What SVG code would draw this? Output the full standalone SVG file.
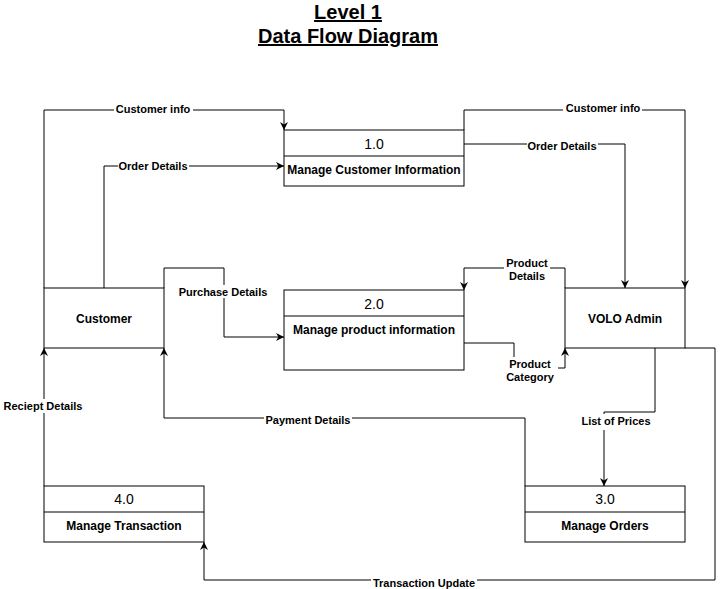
<svg xmlns="http://www.w3.org/2000/svg" width="723" height="589" viewBox="0 0 723 589">
<style>
.box{fill:#fff;stroke:#000;stroke-width:1}
.ln{fill:none;stroke:#000;stroke-width:1}
.num{font-family:"Liberation Sans",Arial,sans-serif;font-size:14px;text-anchor:middle}
.nm{font-family:"Liberation Sans",Arial,sans-serif;font-size:12px;font-weight:bold;text-anchor:middle}
.lbl{font-family:"Liberation Sans",Arial,sans-serif;font-size:11px;font-weight:bold;text-anchor:middle}
.lbg{fill:#fff}
.ttl{font-family:"Liberation Sans",Arial,sans-serif;font-size:20px;font-weight:bold;text-anchor:middle;text-decoration:underline}
</style>
<defs>
<marker id="arr" viewBox="0 0 10 10" refX="10" refY="5" markerWidth="8" markerHeight="8" markerUnits="userSpaceOnUse" orient="auto">
<path d="M0,0 L10,5 L0,10 L3,5 Z" fill="#000"/>
</marker>
</defs>
<rect width="723" height="589" fill="#fff"/>
<g id="title">
<text class="ttl" x="348" y="19">Level 1</text>
<text class="ttl" x="348" y="43">Data Flow Diagram</text>
</g>
<g id="connectors">
<path class="ln" d="M44,288 V110 H284 V130" marker-end="url(#arr)"/>
<path class="ln" d="M104,288 V166 H284" marker-end="url(#arr)"/>
<path class="ln" d="M464,130 V110 H685 V288" marker-end="url(#arr)"/>
<path class="ln" d="M464,144 H625 V288" marker-end="url(#arr)"/>
<path class="ln" d="M565,288 V268 H464 V290" marker-end="url(#arr)"/>
<path class="ln" d="M464,343 H514 V368 H565 V348" marker-end="url(#arr)"/>
<path class="ln" d="M164,288 V268 H224 V337 H284" marker-end="url(#arr)"/>
<path class="ln" d="M525,486 V418 H164 V348" marker-end="url(#arr)"/>
<path class="ln" d="M655,348 V412 H604 V486" marker-end="url(#arr)"/>
<path class="ln" d="M44,486 V348" marker-end="url(#arr)"/>
<path class="ln" d="M685,348 H715 V580 H204 V542" marker-end="url(#arr)"/>
<g id="labels">
<rect class="lbg" x="114" y="103" width="79" height="13"/>
<text class="lbl" x="153" y="113">Customer info</text>
<rect class="lbg" x="118" y="159" width="71" height="13"/>
<text class="lbl" x="153" y="170">Order Details</text>
<rect class="lbg" x="563" y="102" width="79" height="13"/>
<text class="lbl" x="603" y="112">Customer info</text>
<rect class="lbg" x="527" y="139" width="71" height="13"/>
<text class="lbl" x="562" y="150">Order Details</text>
<rect class="lbg" x="504" y="257" width="46" height="25"/>
<text class="lbl" x="527" y="267">Product</text>
<text class="lbl" x="527" y="280">Details</text>
<rect class="lbg" x="503" y="357" width="55" height="26"/>
<text class="lbl" x="530" y="368">Product</text>
<text class="lbl" x="530" y="381">Category</text>
<rect class="lbg" x="177" y="285" width="92" height="13"/>
<text class="lbl" x="223" y="296">Purchase Details</text>
<rect class="lbg" x="264" y="413" width="88" height="13"/>
<text class="lbl" x="308" y="424">Payment Details</text>
<rect class="lbg" x="579" y="414" width="74" height="16"/>
<text class="lbl" x="616" y="425">List of Prices</text>
<rect class="lbg" x="3" y="399" width="80" height="14"/>
<text class="lbl" x="43" y="410">Reciept Details</text>
<rect class="lbg" x="371" y="575" width="106" height="13"/>
<text class="lbl" x="424" y="587">Transaction Update</text>
</g>
</g>
<g id="customer">
<rect class="box" x="44" y="288" width="120" height="60"/>
<text class="nm" x="104" y="323">Customer</text>
</g>
<g id="volo-admin">
<rect class="box" x="565" y="288" width="120" height="60"/>
<text class="nm" x="625" y="323">VOLO Admin</text>
</g>
<g id="p1">
<rect class="box" x="284" y="130" width="180" height="56"/>
<line class="ln" x1="284" y1="156" x2="464" y2="156"/>
<text class="num" x="374" y="149">1.0</text>
<text class="nm" x="374" y="174">Manage Customer Information</text>
</g>
<g id="p2">
<rect class="box" x="284" y="290" width="180" height="80"/>
<line class="ln" x1="284" y1="316" x2="464" y2="316"/>
<text class="num" x="374" y="309">2.0</text>
<text class="nm" x="374" y="334">Manage product information</text>
</g>
<g id="p4">
<rect class="box" x="44" y="486" width="160" height="56"/>
<line class="ln" x1="44" y1="512" x2="204" y2="512"/>
<text class="num" x="124" y="504">4.0</text>
<text class="nm" x="124" y="530">Manage Transaction</text>
</g>
<g id="p3">
<rect class="box" x="525" y="486" width="160" height="56"/>
<line class="ln" x1="525" y1="512" x2="685" y2="512"/>
<text class="num" x="605" y="504">3.0</text>
<text class="nm" x="605" y="530">Manage Orders</text>
</g>
</svg>
